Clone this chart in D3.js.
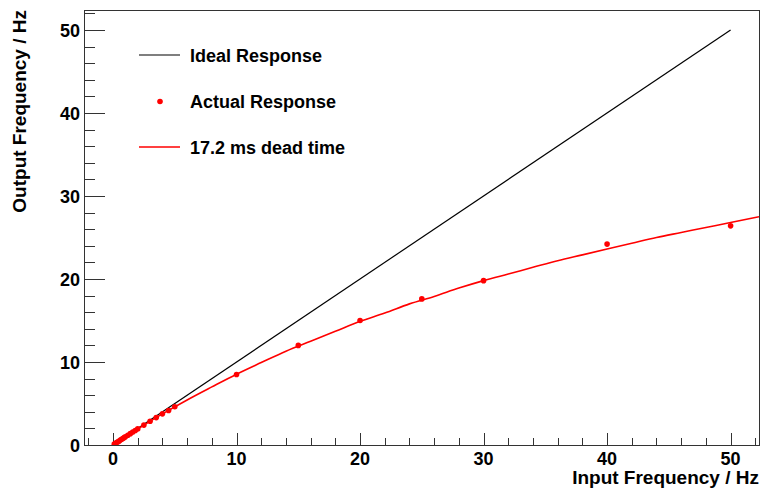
<!DOCTYPE html>
<html><head><meta charset="utf-8">
<script src="https://cdn.jsdelivr.net/npm/d3@7"></script>
<style>body{margin:0;background:#fff}svg{display:block}text{font-family:"Liberation Sans",Arial,sans-serif;font-weight:bold;fill:#000}</style>
</head><body>
<script>
// Measured (actual) response points: input Hz, output Hz
const actualX = [0.1,0.2,0.3,0.4,0.5,0.6,0.7,0.8,0.9,1.0,1.2,1.4,1.6,1.8,2.0,2.5,3.0,3.5,4.0,4.5,5.0,10,15,20,25,30,40,50];
const actualY = [0.1,0.2,0.3,0.4,0.49,0.59,0.69,0.79,0.89,0.98,1.18,1.37,1.56,1.75,1.94,2.4,2.86,3.3,3.75,4.15,4.6,8.5,12.0,15.0,17.6,19.8,24.2,26.4];
// Ideal response line endpoints
const idealX = [0, 50];
const idealY = [0, 50];
// 17.2 ms dead time curve
const deadX = [0,2,4,6,8,10,12,14,16,18,20,22,24,26,28,30,32,34,36,38,40,42,44,46,48,50,52.3];
const deadY = [0,1.93,3.75,5.43,7.0,8.53,9.93,11.3,12.5,13.7,14.9,15.9,17.0,17.9,18.9,19.8,20.6,21.4,22.2,22.9,23.6,24.3,25.0,25.6,26.2,26.8,27.5];
const xTicks = [0,10,20,30,40,50];
const yTicks = [0,10,20,30,40,50];
const legendLabels = ["Ideal Response","Actual Response","17.2 ms dead time"];

const W=762,H=492;
const L=84,T=10,R=759,B=445;
const svg=d3.select("body").append("svg").attr("width",W).attr("height",H);
const x=d3.scaleLinear().domain([-2.35,52.3]).range([L,R]);
const y=d3.scaleLinear().domain([0,52.4]).range([B,T]);

// frame
svg.append("rect").attr("x",L).attr("y",T).attr("width",R-L).attr("height",B-T)
  .attr("fill","none").attr("stroke","#333").attr("stroke-width",1).attr("shape-rendering","crispEdges");

// x axis ticks
const gx=svg.append("g").attr("transform",`translate(0,${B})`);
const xMinor=d3.range(-2,52.01,2);
gx.selectAll("line.mn").data(xMinor).join("line")
  .attr("x1",d=>Math.round(x(d))+0.5).attr("x2",d=>Math.round(x(d))+0.5)
  .attr("y1",0).attr("y2",d=>xTicks.includes(d)?-12:-7)
  .attr("stroke","#333").attr("stroke-width",1);
gx.selectAll("text").data(xTicks).join("text")
  .attr("x",d=>x(d)).attr("y",20).attr("text-anchor","middle")
  .attr("font-size",18).text(d=>d);

// y axis ticks
const gy=svg.append("g").attr("transform",`translate(${L},0)`);
const yMinor=d3.range(0,52.01,2);
gy.selectAll("line").data(yMinor).join("line")
  .attr("y1",d=>Math.round(y(d))+0.5).attr("y2",d=>Math.round(y(d))+0.5)
  .attr("x1",0).attr("x2",d=>yTicks.includes(d)?21:11)
  .attr("stroke","#333").attr("stroke-width",1);
gy.selectAll("text").data(yTicks).join("text")
  .attr("x",-4).attr("y",d=>y(d)+7).attr("text-anchor","end")
  .attr("font-size",18).text(d=>d);

// titles
svg.append("text").attr("x",R).attr("y",484).attr("text-anchor","end").attr("font-size",19).text("Input Frequency / Hz");
svg.append("text").attr("transform",`translate(26,${T}) rotate(-90)`).attr("text-anchor","end").attr("font-size",19).text("Output Frequency / Hz");

const clip=svg.append("clipPath").attr("id","c").append("rect").attr("x",L).attr("y",T).attr("width",R-L).attr("height",B-T);
const plot=svg.append("g").attr("clip-path","url(#c)");
const line=d3.line().x(d=>x(d[0])).y(d=>y(d[1]));

plot.append("path").datum(idealX.map((v,i)=>[v,idealY[i]])).attr("d",line)
  .attr("fill","none").attr("stroke","#000").attr("stroke-width",1.2);
plot.append("path").datum(deadX.map((v,i)=>[v,deadY[i]])).attr("d",d3.line().x(d=>x(d[0])).y(d=>y(d[1])).curve(d3.curveMonotoneX))
  .attr("fill","none").attr("stroke","#ff0000").attr("stroke-width",1.6);
plot.selectAll("circle").data(actualX.map((v,i)=>[v,actualY[i]])).join("circle")
  .attr("cx",d=>x(d[0])).attr("cy",d=>y(d[1])).attr("r",2.8).attr("fill","#ff0000");

// legend
const lg=svg.append("g");
lg.append("line").attr("x1",139).attr("x2",180).attr("y1",55).attr("y2",55).attr("stroke","#000").attr("stroke-width",1.2);
lg.append("circle").attr("cx",160).attr("cy",101.5).attr("r",2.8).attr("fill","#ff0000");
lg.append("line").attr("x1",139).attr("x2",180).attr("y1",147).attr("y2",147).attr("stroke","#ff0000").attr("stroke-width",1.6);
lg.selectAll("text").data(legendLabels).join("text")
  .attr("x",190).attr("y",(d,i)=>61.5+i*46).attr("font-size",18).text(d=>d);
</script>
</body></html>
